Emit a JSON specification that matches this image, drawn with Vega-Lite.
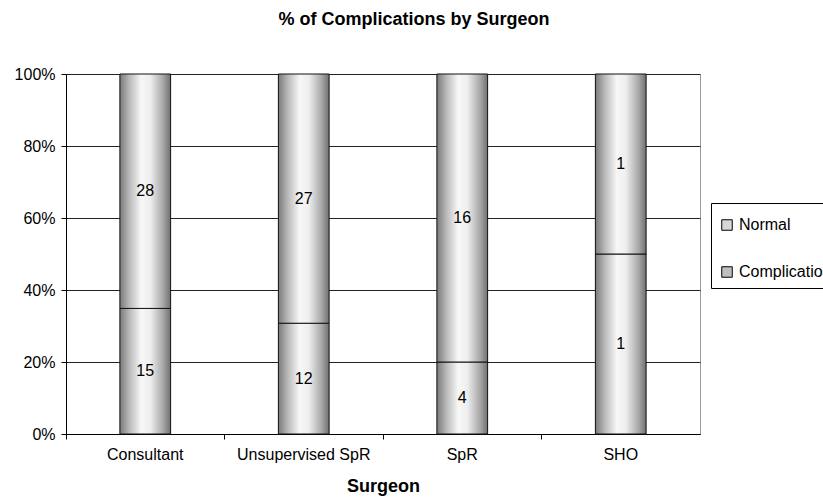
{
  "$schema": "https://vega.github.io/schema/vega-lite/v6.json",
  "width": 634,
  "height": 360,
  "autosize": {"type": "none"},
  "padding": {"left": 66, "top": 74, "right": 123, "bottom": 63},
  "background": "white",
  "title": {
    "text": "% of Complications by Surgeon",
    "font": "Liberation Sans",
    "fontSize": 18,
    "fontWeight": "bold",
    "color": "#000",
    "anchor": "middle",
    "dx": 31,
    "offset": 37
  },
  "config": {
    "view": {"stroke": "#999", "strokeWidth": 1},
    "font": "Liberation Sans"
  },
  "data": {
    "values": [
      {"surgeon": "Consultant", "type": "Complication", "n": 15},
      {"surgeon": "Consultant", "type": "Normal", "n": 28},
      {"surgeon": "Unsupervised SpR", "type": "Complication", "n": 12},
      {"surgeon": "Unsupervised SpR", "type": "Normal", "n": 27},
      {"surgeon": "SpR", "type": "Complication", "n": 4},
      {"surgeon": "SpR", "type": "Normal", "n": 16},
      {"surgeon": "SHO", "type": "Complication", "n": 1},
      {"surgeon": "SHO", "type": "Normal", "n": 1}
    ]
  },
  "transform": [
    {"stack": "n", "groupby": ["surgeon"], "offset": "normalize", "sort": [{"field": "type", "order": "ascending"}], "as": ["y0", "y1"]},
    {"calculate": "(datum.y0 + datum.y1) / 2", "as": "ymid"}
  ],
  "encoding": {
    "x": {
      "field": "surgeon",
      "type": "nominal",
      "sort": ["Consultant", "Unsupervised SpR", "SpR", "SHO"],
      "scale": {"paddingInner": 0, "paddingOuter": 0},
      "axis": {
        "title": "Surgeon",
        "titleFont": "Liberation Sans",
        "titleFontSize": 18,
        "titleFontWeight": "bold",
        "titleColor": "#000",
        "titlePadding": 15,
        "labelAngle": 0,
        "labelFont": "Liberation Sans",
        "labelFontSize": 16,
        "labelColor": "#000",
        "labelPadding": 7,
        "bandPosition": 0,
        "tickSize": 5,
        "tickColor": "#000",
        "domainColor": "#000",
        "grid": false
      }
    }
  },
  "layer": [
    {
      "mark": {
        "type": "bar",
        "width": {"band": 0.32},
        "stroke": "#111",
        "strokeWidth": 1,
        "fill": {
          "gradient": "linear",
          "x1": 0, "y1": 0, "x2": 1, "y2": 0,
          "stops": [
            {"offset": 0, "color": "#7a7a7a"},
            {"offset": 0.2, "color": "#bdbdbd"},
            {"offset": 0.42, "color": "#f7f7f7"},
            {"offset": 0.6, "color": "#eeeeee"},
            {"offset": 0.85, "color": "#a8a8a8"},
            {"offset": 1, "color": "#707070"}
          ]
        }
      },
      "encoding": {
        "y": {
          "field": "y0",
          "type": "quantitative",
          "scale": {"domain": [0, 1]},
          "axis": {
            "title": null,
            "format": ".0%",
            "values": [0, 0.2, 0.4, 0.6, 0.8, 1],
            "labelFont": "Liberation Sans",
            "labelFontSize": 16,
            "labelColor": "#000",
            "labelPadding": 6,
            "tickSize": 5,
            "tickColor": "#000",
            "domainColor": "#000",
            "grid": true,
            "gridColor": "#222",
            "gridOpacity": 1
          }
        },
        "y2": {"field": "y1"},
        "color": {
          "field": "type",
          "type": "nominal",
          "scale": {"domain": ["Normal", "Complication"], "range": ["#d8d8d8", "#c0c0c0"]},
          "legend": {
            "title": " ",
            "titleFontSize": 6,
            "titlePadding": 0,
            "orient": "none",
            "legendX": 645,
            "legendY": 129,
            "symbolType": "square",
            "symbolSize": 110,
            "symbolStrokeColor": "#000",
            "symbolStrokeWidth": 1,
            "labelFont": "Liberation Sans",
            "labelFontSize": 16,
            "labelColor": "#000",
            "labelOffset": 4,
            "rowPadding": 31,
            "padding": 8,
            "strokeColor": "#000",
            "fillColor": "white"
          }
        }
      }
    },
    {
      "mark": {"type": "text", "font": "Liberation Sans", "fontSize": 16, "color": "#000", "baseline": "middle"},
      "encoding": {
        "y": {"field": "ymid", "type": "quantitative"},
        "text": {"field": "n", "type": "quantitative"}
      }
    }
  ]
}
